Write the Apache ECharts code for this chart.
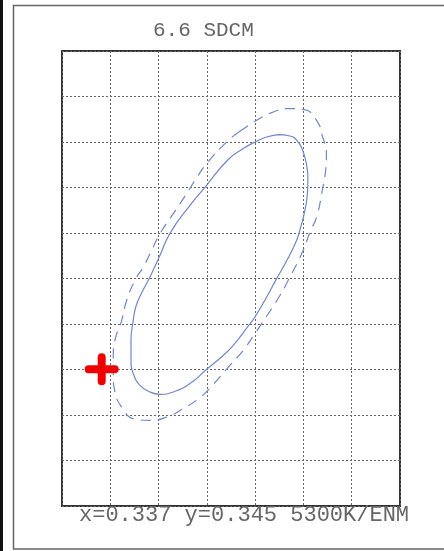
<!DOCTYPE html>
<html>
<head>
<meta charset="utf-8">
<script src="https://cdn.jsdelivr.net/npm/echarts@6/dist/echarts.min.js"></script>
<style>
html,body{margin:0;padding:0;background:#fff;}
#chart{width:444px;height:551px;}
</style>
</head>
<body>
<div id="chart"></div>
<script>
// Chart texts
var titleText = '6.6 SDCM';
var footerText = 'x=0.337 y=0.345 5300K/ENM';

// Grid (in grid-cell units)
var xMin = 0, xMax = 7, xStep = 1;
var yMin = 0, yMax = 10, yStep = 1;

// Inner (solid) ellipse
var solidX = [4.472,4.720,4.892,4.996,5.066,5.093,5.079,5.031,4.948,4.859,4.658,4.445,4.224,3.996,3.882,3.547,3.271,2.996,2.650,2.304,2.029,1.822,1.615,1.476,1.429,1.429,1.476,1.532,1.656,1.822,2.029,2.236,2.650,2.961,3.437,3.754,3.996,4.238,4.472];
var solidY = [8.163,8.132,8.000,7.780,7.488,7.202,6.829,6.499,6.147,5.840,5.400,4.998,4.565,4.154,3.993,3.532,3.246,3.004,2.690,2.505,2.455,2.505,2.653,2.910,3.202,3.642,4.081,4.389,4.697,5.033,5.510,5.993,6.609,7.004,7.609,7.855,8.000,8.110,8.163];

// Outer (dashed) ellipse
var dashedX = [3.685,3.996,4.342,4.685,4.996,5.273,5.398,5.476,5.455,5.398,5.273,5.135,4.996,4.685,4.478,4.135,3.996,3.754,3.478,3.099,2.857,2.511,2.168,1.822,1.476,1.257,1.097,1.062,1.062,1.097,1.236,1.340,1.511,1.683,1.857,2.029,2.304,2.582,2.754,2.996,3.410,3.685];
var dashedY = [8.235,8.455,8.646,8.734,8.719,8.477,8.110,7.745,7.327,6.976,6.352,6.022,5.620,4.960,4.565,4.009,3.789,3.422,3.092,2.631,2.382,2.141,1.956,1.884,1.921,2.141,2.505,2.873,3.275,3.642,4.081,4.521,4.960,5.253,5.620,5.987,6.426,6.866,7.158,7.525,8.000,8.235];

// Measured point (red cross)
var crossX = [0.822];
var crossY = [3.004];

function zip(xs, ys){ return xs.map(function(v,i){ return [v, ys[i]]; }); }

var chart = echarts.init(document.getElementById('chart'), null, {renderer:'canvas'});
var gridLine = {show:true, lineStyle:{color:'#666', width:1, type:[2,2]}};
var monoFont = '"Liberation Mono","Courier New",monospace';

chart.setOption({
  animation:false,
  backgroundColor:'#ffffff',
  title:[
    {text:titleText, left:148, top:15, textStyle:{fontFamily:monoFont, fontSize:21, fontWeight:'normal', color:'#666'}},
    {text:footerText, left:74, top:499, textStyle:{fontFamily:monoFont, fontSize:22, fontWeight:'normal', color:'#666'}}
  ],
  graphic:[
    {type:'rect', silent:true, z:-1, shape:{x:13.5, y:5.5, width:440, height:543.5}, style:{fill:null, stroke:'#666', lineWidth:1.5}},
    {type:'rect', silent:true, z:-1, shape:{x:0, y:0, width:3, height:551}, style:{fill:'#111'}}
  ],
  grid:{left:62, top:51, right:44, bottom:45, show:true, borderColor:'#333', borderWidth:2, backgroundColor:'transparent'},
  xAxis:{type:'value', min:xMin, max:xMax, interval:xStep, axisLine:{show:false}, axisTick:{show:false}, axisLabel:{show:false}, splitLine:gridLine},
  yAxis:{type:'value', min:yMin, max:yMax, interval:yStep, axisLine:{show:false}, axisTick:{show:false}, axisLabel:{show:false}, splitLine:gridLine},
  series:[
    {type:'line', data:zip(dashedX, dashedY), smooth:0.5, symbol:'none', lineStyle:{color:'#7088c8', width:1.2, type:[10,7]}, z:3},
    {type:'line', data:zip(solidX, solidY), smooth:0.5, symbol:'none', lineStyle:{color:'#7088c8', width:1.2}, z:3},
    {type:'scatter', data:zip(crossX, crossY), symbol:'path://M13,4 a4,4 0 0 1 8,0 v8 h9 a4,4 0 0 1 0,8 h-9 v8 a4,4 0 0 1 -8,0 v-8 h-9 a4,4 0 0 1 0,-8 h9 z', symbolSize:[34,32], symbolKeepAspect:false, itemStyle:{color:'#ee0000', opacity:1}, z:5}
  ]
});
</script>
</body>
</html>
